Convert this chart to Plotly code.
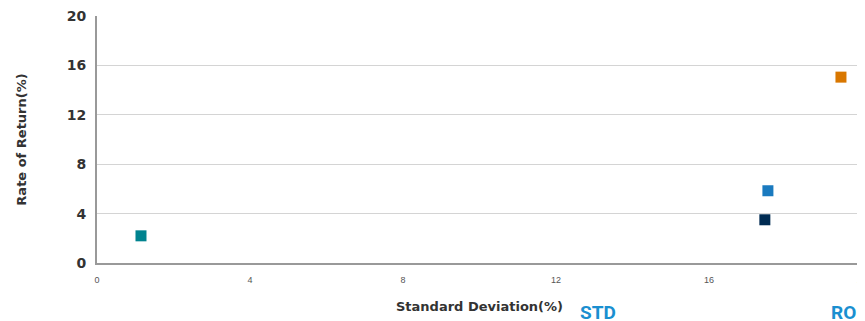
import plotly.graph_objects as go

# portfolio risk / return points
std_dev = [1.15, 17.46, 17.54, 19.45]
rate_of_return = [2.2, 3.5, 5.85, 15.05]
point_colors = ["#00838f", "#002b52", "#1a7abf", "#d97700"]

x_ticks = [0, 4, 8, 12, 16, 20]
y_ticks = [0, 4, 8, 12, 16, 20]

fig = go.Figure()
for x, y, c in zip(std_dev, rate_of_return, point_colors):
    fig.add_trace(
        go.Scatter(
            x=[x],
            y=[y],
            mode="markers",
            marker=dict(symbol="square", size=11, color=c, line=dict(width=0)),
            showlegend=False,
            cliponaxis=False,
        )
    )

# the page body adds an 8px offset, margins below account for it
fig.update_layout(
    width=865,
    height=321,
    margin=dict(l=89, r=11, t=8, b=66),
    plot_bgcolor="white",
    paper_bgcolor="white",
    font=dict(family="DejaVu Sans, sans-serif", color="#333"),
    xaxis=dict(
        range=[0, 20],
        tickvals=x_ticks,
        ticktext=[str(v) for v in x_ticks],
        tickfont=dict(size=9, color="#555", family="Liberation Sans, Arial, sans-serif"),
        showgrid=False,
        zeroline=False,
        showline=True,
        linecolor="#999",
        linewidth=2,
        ticks="",
        ticklabelstandoff=7,
        ticklabeloverflow="allow",
        automargin=False,
        title=dict(
            text="<b>Standard Deviation(%)</b>",
            font=dict(size=13, color="#333"),
            standoff=18,
        ),
    ),
    yaxis=dict(
        range=[0, 20],
        tickvals=y_ticks,
        ticktext=["<b>%d</b>" % v for v in y_ticks],
        tickfont=dict(size=14, color="#333"),
        showgrid=True,
        gridcolor="#d4d4d4",
        gridwidth=1,
        zeroline=False,
        showline=True,
        linecolor="#999",
        linewidth=2,
        ticks="",
        ticklabelstandoff=6,
        ticklabeloverflow="allow",
        automargin=False,
        title=dict(
            text="<b>Rate of Return(%)</b>",
            font=dict(size=13, color="#333"),
            standoff=37,
        ),
    ),
)

# right border of the plot area
fig.add_shape(
    type="line", xref="paper", yref="paper", x0=1, x1=1, y0=0, y1=1,
    line=dict(color="#ddd", width=2),
)

# headings of the table below, cut off by the window
fig.add_annotation(
    text="<b>STD</b>", xref="paper", yref="paper", x=0.655, y=-0.144,
    xanchor="center", yanchor="top", showarrow=False,
    font=dict(size=19, color="#1a8fd0", family="Roboto, sans-serif"),
)
fig.add_annotation(
    text="<b>ROR</b>", xref="paper", yref="paper", x=0.957, y=-0.144,
    xanchor="left", yanchor="top", showarrow=False,
    font=dict(size=19, color="#1a8fd0", family="Roboto, sans-serif"),
)

fig.write_html("out.html")
